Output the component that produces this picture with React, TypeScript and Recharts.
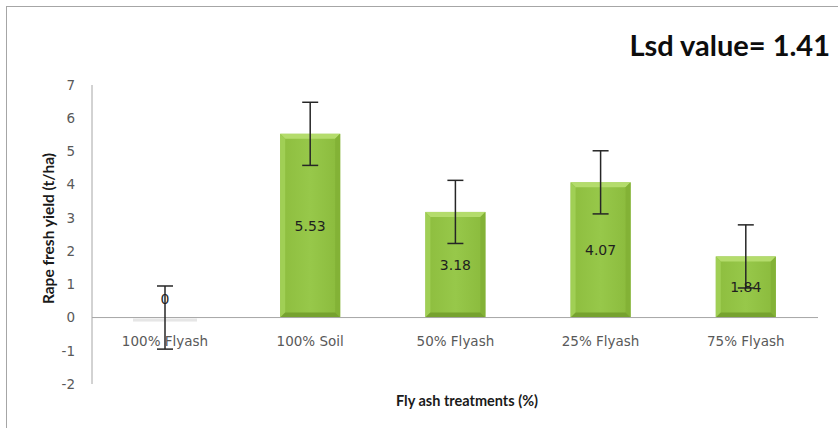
import React from 'react';
import { BarChart, Bar, XAxis, YAxis, ErrorBar, LabelList, ReferenceLine } from 'recharts';

const categories = ['100% Flyash', '100% Soil', '50% Flyash', '25% Flyash', '75% Flyash'];
const yieldValues = [0, 5.53, 3.18, 4.07, 1.84];
const errorValues = [0.95, 0.95, 0.95, 0.95, 0.95];
const yTicks = [-2, -1, 0, 1, 2, 3, 4, 5, 6, 7];

const data = categories.map((name, i) => ({ name, value: yieldValues[i], err: errorValues[i] }));

const TICK_FONT = '"DejaVu Sans", sans-serif';
const TITLE_FONT = 'Lato, "Open Sans", sans-serif';

const BarShape = (props: any) => {
  const { x, y, width, height, index } = props;
  if (!height || height <= 0.5) {
    return <rect x={x - 2} y={y + 1} width={width + 4} height={3} fill="#e6e6e6" />;
  }
  const id = `g${index}`;
  const b = 5;
  return (
    <g>
      <defs>
        <linearGradient id={id} x1="0" y1="0" x2="1" y2="0">
          <stop offset="0%" stopColor="#8dbd3e" />
          <stop offset="50%" stopColor="#97c84a" />
          <stop offset="100%" stopColor="#8aba3c" />
        </linearGradient>
      </defs>
      <rect x={x} y={y} width={width} height={height} fill={`url(#${id})`} />
      <polygon points={`${x},${y} ${x + width},${y} ${x + width - b},${y + b} ${x + b},${y + b}`} fill="#b4dc6c" />
      <polygon points={`${x},${y} ${x + b},${y + b} ${x + b},${y + height - b} ${x},${y + height}`} fill="#a0cf55" />
      <polygon points={`${x + width},${y} ${x + width - b},${y + b} ${x + width - b},${y + height - b} ${x + width},${y + height}`} fill="#83b236" />
      <polygon points={`${x},${y + height} ${x + b},${y + height - b} ${x + width - b},${y + height - b} ${x + width},${y + height}`} fill="#76a22f" />
    </g>
  );
};

const ValueLabel = (props: any) => {
  const { x, y, width, height, value } = props;
  const cx = x + width / 2;
  const cy = value === 0 ? y - 18 : y + height / 2;
  return (
    <text x={cx} y={cy} dy="0.35em" textAnchor="middle" fontFamily={TICK_FONT} fontSize={14} fill="#1f1f1f">
      {value}
    </text>
  );
};

const CategoryLabel = (props: any) => {
  const { x, y, width, height, value } = props;
  const cx = x + width / 2;
  const base = y + Math.max(height, 0);
  return (
    <text x={cx} y={base + 24} dy="0.35em" textAnchor="middle" fontFamily={TICK_FONT} fontSize={13.5} fill="#595959">
      {value}
    </text>
  );
};

export default function App() {
  return (
    <div style={{ position: 'absolute', left: 0, top: 0, width: 838, height: 428, background: '#fff' }}>
      <BarChart
        width={838}
        height={428}
        data={data}
        margin={{ top: 85, right: 20, bottom: 0, left: 0 }}
        barSize={60}
      >
        <XAxis
          dataKey="name"
          axisLine={false}
          tickLine={false}
          tick={false}
          height={44}
          label={{
            value: 'Fly ash treatments (%)',
            position: 'insideBottom',
            offset: 22,
            dx: 12,
            style: { fontFamily: TITLE_FONT, fontWeight: 700, fontSize: 14.5, fill: '#1a1a1a' },
          }}
        />
        <YAxis
          domain={[-2, 7]}
          ticks={yTicks}
          interval={0}
          width={92}
          tickLine={false}
          tickMargin={11}
          axisLine={{ stroke: '#a6a6a6' }}
          tick={{ fontFamily: TICK_FONT, fontSize: 13.5, fill: '#595959' }}
          label={{
            value: 'Rape fresh yield (t/ha)',
            angle: -90,
            position: 'center',
            dx: 2,
            dy: -6,
            style: { fontFamily: TITLE_FONT, fontWeight: 700, fontSize: 15.5, fill: '#1a1a1a', textAnchor: 'middle' },
          }}
        />
        <ReferenceLine y={0} stroke="#a6a6a6" strokeWidth={1} ifOverflow="extendDomain" />
        <Bar dataKey="value" shape={BarShape} isAnimationActive={false}>
          <LabelList dataKey="value" content={ValueLabel} />
          <LabelList dataKey="name" content={CategoryLabel} />
          <ErrorBar dataKey="err" width={8} stroke="#262626" strokeWidth={1.5} direction="y" isAnimationActive={false} />
        </Bar>
      </BarChart>
      <svg width={838} height={428} style={{ position: 'absolute', left: 0, top: 0, pointerEvents: 'none' }}>
        <rect x={6.5} y={6.5} width={900} height={500} fill="none" stroke="#a6a6a6" strokeWidth={1} />
        <text x={830} y={56} textAnchor="end" fontFamily={TITLE_FONT} fontWeight={700} fontSize={29} fill="#0d0d0d">
          Lsd value= 1.41
        </text>
      </svg>
    </div>
  );
}
